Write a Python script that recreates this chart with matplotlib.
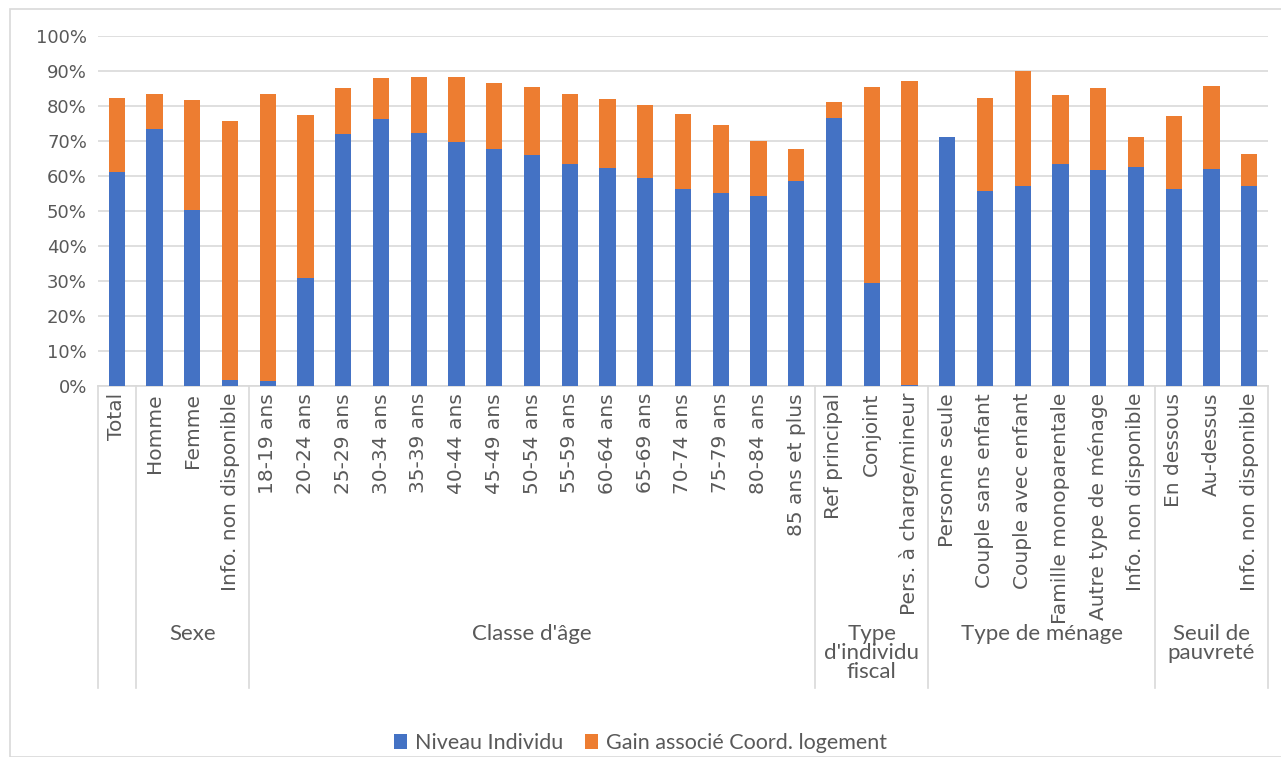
import matplotlib
matplotlib.use("Agg")
import matplotlib.pyplot as plt
import matplotlib.transforms as mtransforms
from matplotlib.patches import Rectangle, Patch
import numpy as np

categories = ["Total", "Homme", "Femme", "Info. non disponible",
              "18-19 ans", "20-24 ans", "25-29 ans", "30-34 ans", "35-39 ans",
              "40-44 ans", "45-49 ans", "50-54 ans", "55-59 ans", "60-64 ans",
              "65-69 ans", "70-74 ans", "75-79 ans", "80-84 ans", "85 ans et plus",
              "Ref principal", "Conjoint", "Pers. à charge/mineur",
              "Personne seule", "Couple sans enfant", "Couple avec enfant",
              "Famille monoparentale", "Autre type de ménage", "Info. non disponible",
              "En dessous", "Au-dessus", "Info. non disponible"]

niveau_individu = [61.0, 73.3, 50.4, 1.7,
                   1.4, 30.9, 71.9, 76.4, 72.4, 69.6, 67.8, 66.1, 63.5, 62.4,
                   59.3, 56.4, 55.2, 54.4, 58.7,
                   76.7, 29.5, 0.3,
                   71.0, 55.8, 57.0, 63.3, 61.8, 62.7,
                   56.4, 62.1, 57.0]
total_coord = [82.4, 83.3, 81.6, 75.6,
               83.3, 77.3, 85.0, 87.9, 88.2, 88.2, 86.7, 85.3, 83.3, 81.9,
               80.2, 77.6, 74.7, 70.1, 67.6,
               81.0, 85.3, 87.0,
               71.0, 82.4, 89.9, 83.0, 85.0, 71.0,
               77.0, 85.6, 66.4]
gain_coord = [round(t - n, 1) for t, n in zip(total_coord, niveau_individu)]

groups = ["", "Sexe", "Classe d'âge", "Type\nd'individu\nfiscal", "Type de ménage", "Seuil de\npauvreté"]
group_sizes = [1, 3, 15, 3, 6, 3]

series_names = ["Niveau Individu", "Gain associé Coord. logement"]
colors = ["#4472C4", "#ED7D31"]
text_color = "#595959"
grid_color = "#D9D9D9"

W, H = 1281, 757
fig = plt.figure(figsize=(W / 100, H / 100), dpi=100)
fig.patches.append(Rectangle((10 / W, 0), 1.0, 1 - 9 / H, transform=fig.transFigure,
                             fill=False, edgecolor=grid_color, linewidth=1.2))

left, right, top, bottom = 98, 1268, 36, 386
ax = fig.add_axes([left / W, 1 - bottom / H, (right - left) / W, (bottom - top) / H])

x = np.arange(len(categories))
bw = 0.43
ax.bar(x, niveau_individu, bw, color=colors[0], zorder=3)
ax.bar(x, gain_coord, bw, bottom=niveau_individu, color=colors[1], zorder=3)

ax.set_xlim(-0.5, len(categories) - 0.5)
ax.set_ylim(0, 100)
ax.set_yticks(np.arange(0, 101, 10))
ax.set_yticklabels([f"{v}%" for v in range(0, 101, 10)], fontsize=13, color=text_color)
ax.yaxis.grid(True, color=grid_color, linewidth=1.2, zorder=0)
for s in ["top", "right", "left"]:
    ax.spines[s].set_visible(False)
ax.spines["bottom"].set_color(grid_color)
ax.spines["bottom"].set_linewidth(1.2)
ax.tick_params(axis="y", length=0, pad=8)
ax.tick_params(axis="x", length=0)
ax.set_xticks(x)
ax.set_xticklabels(categories, rotation=90, fontsize=14.5, color=text_color,
                   va="top", ha="center")
ax.tick_params(axis="x", pad=5)

trans = mtransforms.blended_transform_factory(ax.transData, ax.transAxes)
sep_bottom = -(688 - bottom) / (bottom - top)
boundaries = [-0.5]
pos = -0.5
for n in group_sizes:
    pos += n
    boundaries.append(pos)
for b in boundaries:
    ax.plot([b, b], [0, sep_bottom], transform=trans, color=grid_color,
             linewidth=1.2, clip_on=False)

label_y = -(624 - bottom) / (bottom - top)
for g, start, end in zip(groups, boundaries[:-1], boundaries[1:]):
    if g:
        ax.text((start + end) / 2, label_y, g, transform=trans, ha="center", va="top",
                fontsize=16, color=text_color, family="Lato", linespacing=0.95)

handles = [Patch(facecolor=c, edgecolor="none") for c in colors]
fig.legend(handles, series_names, loc="center", bbox_to_anchor=(0.5, 1 - 743 / H),
           ncol=2, frameon=False, handlelength=0.6, handleheight=0.75,
           handletextpad=0.4, columnspacing=1.0, labelcolor=text_color,
           prop={"family": "Lato", "size": 15.5})

fig.savefig("out.png", dpi=100)
